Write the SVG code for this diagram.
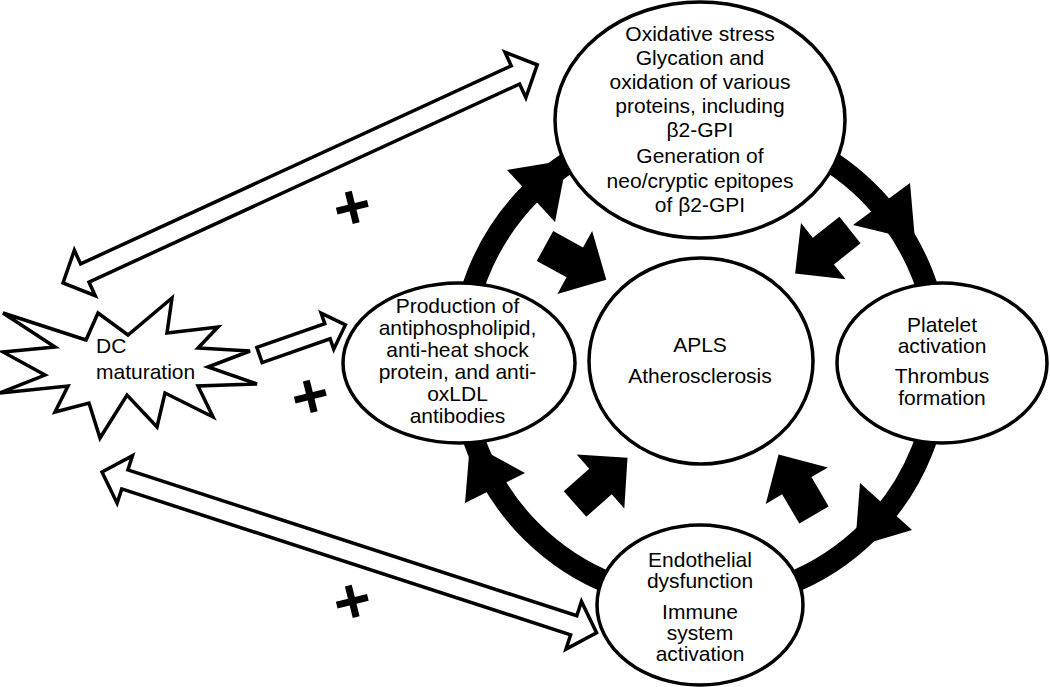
<svg xmlns="http://www.w3.org/2000/svg" width="1050" height="687" viewBox="0 0 1050 687">
<defs>
<style>
.t{font-family:"Liberation Sans",Arial,Helvetica,sans-serif;font-size:21px;fill:#000;text-anchor:middle}
.pl{font-family:"Liberation Sans",Arial,Helvetica,sans-serif;font-size:64px;font-weight:bold;fill:#000;text-anchor:middle}
.node{fill:#fff;stroke:#000;stroke-width:3.5}
.hollow{fill:#fff;stroke:#000;stroke-width:3.5;stroke-linejoin:miter}
.solid{fill:#000;stroke:none}
</style>
<polygon id="smallArrow" points="0,-17 34,-17 34,-36 70,0 34,36 34,17 0,17"/>
</defs>
<rect width="1050" height="687" fill="#fff"/>
<g id="connectors">
  <circle cx="700" cy="362" r="239" fill="none" stroke="#000" stroke-width="22"/>
  <polygon class="solid" points="507,170 555,222 567,160"/>
  <polygon class="solid" points="853,225 910,183 915,240"/>
  <polygon class="solid" points="860,483 912,530 855,547"/>
  <polygon class="solid" points="465,503 525,473 470,443"/>
  <use href="#smallArrow" class="solid" transform="translate(545,246) rotate(28.9)"/>
  <use href="#smallArrow" class="solid" transform="translate(850,230) rotate(141.6)"/>
  <use href="#smallArrow" class="solid" transform="translate(575,504) rotate(-41.4)"/>
  <use href="#smallArrow" class="solid" transform="translate(814,515) rotate(-120.4)"/>
  <polygon class="hollow" transform="translate(63,283) rotate(-24.7)" points="0,0 24,-25 24,-10 498,-10 498,-25 522,0 498,25 498,10 24,10 24,25"/>
  <polygon class="hollow" transform="translate(102,472) rotate(18)" points="0,0 24,-25 24,-10 496,-10 496,-25 520,0 496,25 496,10 24,10 24,25"/>
  <polygon class="hollow" transform="translate(259.5,355) rotate(-19.3)" points="0,-8 72,-8 72,-19 91,0 72,19 72,8 0,8"/>
  <text class="pl" x="352" y="228.6" transform="rotate(-14 352 206)">+</text>
  <text class="pl" x="310" y="417.6" transform="rotate(-14 310 395)">+</text>
  <text class="pl" x="352" y="622.6" transform="rotate(-14 352 600)">+</text>
</g>
<g id="node-oxidative">
  <ellipse class="node" cx="700" cy="120" rx="145" ry="118"/>
  <text class="t" x="700" y="41">Oxidative stress</text>
  <text class="t" x="700" y="65">Glycation and</text>
  <text class="t" x="700" y="89">oxidation of various</text>
  <text class="t" x="700" y="113">proteins, including</text>
  <text class="t" x="700" y="137">β2-GPI</text>
  <text class="t" x="700" y="163">Generation of</text>
  <text class="t" x="700" y="188">neo/cryptic epitopes</text>
  <text class="t" x="700" y="212">of β2-GPI</text>
</g>
<g id="node-production">
  <ellipse class="node" cx="459" cy="363" rx="116" ry="80"/>
  <text class="t" x="457.5" y="313">Production of</text>
  <text class="t" x="457.5" y="335">antiphospholipid,</text>
  <text class="t" x="457.5" y="357">anti-heat shock</text>
  <text class="t" x="457.5" y="379">protein, and anti-</text>
  <text class="t" x="457.5" y="401">oxLDL</text>
  <text class="t" x="457.5" y="423">antibodies</text>
</g>
<g id="node-apls">
  <ellipse class="node" cx="701" cy="361" rx="112" ry="103"/>
  <text class="t" x="700" y="352">APLS</text>
  <text class="t" x="700" y="383">Atherosclerosis</text>
</g>
<g id="node-platelet">
  <ellipse class="node" cx="942" cy="363" rx="105" ry="80"/>
  <text class="t" x="942" y="332">Platelet</text>
  <text class="t" x="942" y="353">activation</text>
  <text class="t" x="942" y="383">Thrombus</text>
  <text class="t" x="942" y="405">formation</text>
</g>
<g id="node-endothelial">
  <ellipse class="node" cx="700" cy="605" rx="103" ry="80"/>
  <text class="t" x="700" y="567">Endothelial</text>
  <text class="t" x="700" y="588">dysfunction</text>
  <text class="t" x="700" y="619">Immune</text>
  <text class="t" x="700" y="640">system</text>
  <text class="t" x="700" y="661">activation</text>
</g>
<g id="node-dc">
  <polygon class="node" points="172,298 167,333 218,327 198,348 250,351 208,367 257,384 198,386 213,417 165,393 157,427 127,395 100,438 89,403 55,412 68,386 0,393 45,375 3,352 55,347 3,313 86,340 98,313 128,335"/>
  <text class="t" x="96" y="353" style="text-anchor:start">DC</text>
  <text class="t" x="96" y="379" style="text-anchor:start">maturation</text>
</g>
</svg>
